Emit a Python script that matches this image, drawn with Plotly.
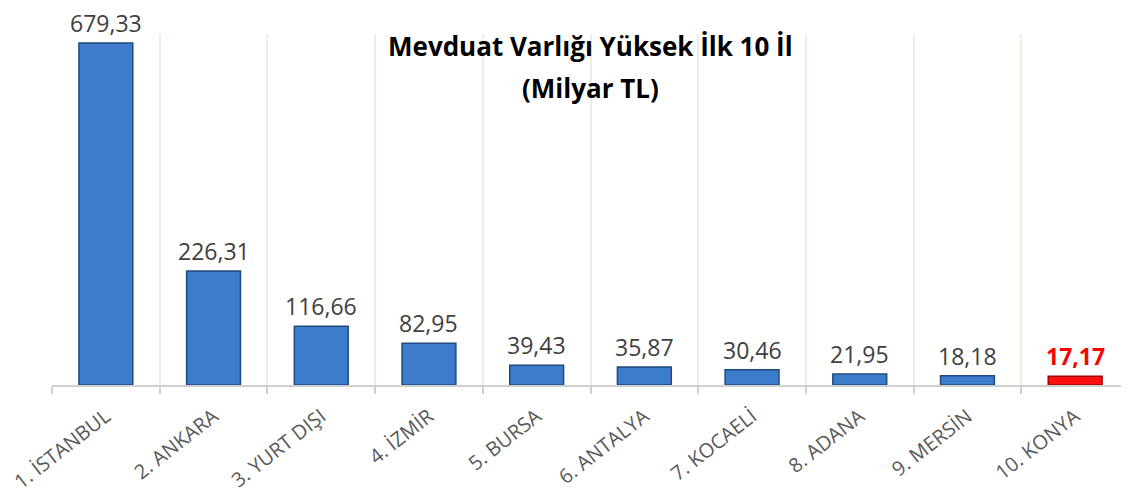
import plotly.graph_objects as go

categories = ["1. İSTANBUL", "2. ANKARA", "3. YURT DIŞI", "4. İZMİR", "5. BURSA",
              "6. ANTALYA", "7. KOCAELİ", "8. ADANA", "9. MERSİN", "10. KONYA"]
values = [679.33, 226.31, 116.66, 82.95, 39.43, 35.87, 30.46, 21.95, 18.18, 17.17]
highlight = "10. KONYA"

title_line1 = "Mevduat Varlığı Yüksek İlk 10 İl"
title_line2 = "(Milyar TL)"

labels = [f"{v:.2f}".replace(".", ",") for v in values]
colors = ["#FF1010" if c == highlight else "#3D7CCB" for c in categories]
lines = ["#A00000" if c == highlight else "#1F4A80" for c in categories]
font_colors = ["#FF0000" if c == highlight else "#404040" for c in categories]
texts = [f"<b>{t}</b>" if c == highlight else t for t, c in zip(labels, categories)]

fig = go.Figure(go.Bar(
    x=categories, y=values,
    marker=dict(color=colors, line=dict(color=lines, width=1.5)),
    width=0.5, cliponaxis=False,
))

M_L, M_R, M_T, M_B = 44, 8, 26, 123
plot_h = 500 - M_T - M_B

annotations = [
    dict(x=c, y=v, xref="x", yref="y", text=t, showarrow=False,
         xanchor="center", yanchor="bottom", yshift=3, borderpad=0,
         font=dict(family="Open Sans", size=23, color=fc))
    for c, v, t, fc in zip(categories, values, texts, font_colors)
]
for txt, ypx in ((title_line1, 38), (title_line2, 80)):
    annotations.append(dict(
        text=f"<b>{txt}</b>", x=0.5, y=1 - (ypx - M_T) / plot_h,
        xref="paper", yref="paper", xanchor="center", yanchor="middle",
        showarrow=False, font=dict(family="Open Sans", size=26, color="black")))

fig.update_layout(
    width=1129, height=500,
    margin=dict(l=M_L, r=M_R, t=M_T, b=M_B),
    paper_bgcolor="white", plot_bgcolor="white",
    showlegend=False,
    xaxis=dict(
        automargin=False,
        tickson="boundaries", showgrid=True, gridcolor="#EDEDE3", gridwidth=1.5,
        ticks="outside", ticklen=7, tickcolor="#D0D0D0", tickwidth=2,
        showline=True, linecolor="#D0D0D0", linewidth=2,
        tickangle=-38, ticklabelstandoff=10,
        tickfont=dict(family="Open Sans", size=20, color="#595959"),
    ),
    yaxis=dict(range=[0, 697], visible=False, showgrid=False, automargin=False),
    annotations=annotations,
)

fig.write_html("out.html")
